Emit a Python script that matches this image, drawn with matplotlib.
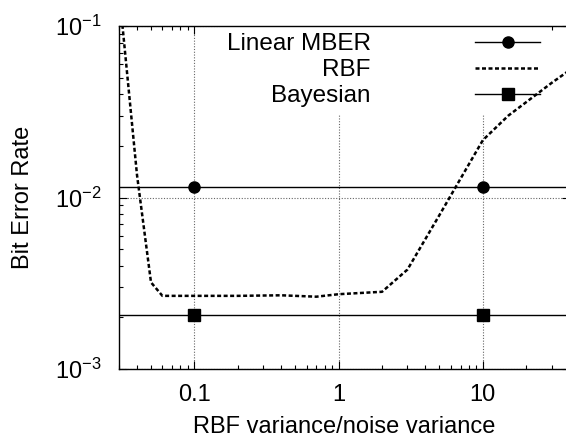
import matplotlib
matplotlib.use('Agg')
import matplotlib.pyplot as plt
from matplotlib.lines import Line2D
from matplotlib.ticker import FixedLocator, NullFormatter, LogLocator

# ---- data ----
rbf_variance = [0.03, 0.04, 0.05, 0.06, 0.1, 0.2, 0.4, 0.7, 1.0, 2.0, 3.0, 5.0,
                10.0, 15.0, 20.0, 30.0, 40.0]
rbf_ber = [0.162, 0.0135, 0.0032, 0.00267, 0.00267, 0.00267, 0.00269, 0.00264,
           0.00273, 0.00282, 0.0038, 0.0079, 0.0216, 0.030, 0.036, 0.0466, 0.0553]
marker_variance = [0.1, 10.0]
mber_ber = 0.0115
bayes_ber = 0.00206
x_ticks = [0.1, 1, 10]
x_tick_labels = ['0.1', '1', '10']
y_ticks = [1e-3, 1e-2, 1e-1]
legend_labels = ['Linear MBER', 'RBF', 'Bayesian']

plt.rcParams['font.family'] = ['Liberation Sans', 'DejaVu Sans']
plt.rcParams['axes.unicode_minus'] = False
plt.rcParams['mathtext.fontset'] = 'custom'
plt.rcParams['mathtext.rm'] = 'Liberation Sans'
plt.rcParams['mathtext.it'] = 'Liberation Sans'

W, H = 566, 443
fig = plt.figure(figsize=(W / 100, H / 100), dpi=100)
ax = fig.add_axes([119 / W, (H - 369) / H, 450.7 / W, 343 / H])
ax.set_xscale('log')
ax.set_yscale('log')
ax.set_xlim(0.03, 40)
ax.set_ylim(1e-3, 1e-1)

ax.set_axisbelow(True)
ax.grid(True, which='major', color='#666666', linestyle=(0, (1, 1.5)), linewidth=0.8)

rbf_style = (0, (1.6, 1.0))
ax.axhline(mber_ber, color='black', lw=1.0, zorder=2)
ax.plot(marker_variance, [mber_ber] * len(marker_variance), 'o', color='black', ms=8, zorder=3)
ax.plot(rbf_variance, rbf_ber, color='black', lw=1.8, linestyle=rbf_style, zorder=2)
ax.axhline(bayes_ber, color='black', lw=1.0, zorder=2)
ax.plot(marker_variance, [bayes_ber] * len(marker_variance), 's', color='black', ms=8.5, zorder=3)

handles = [
    Line2D([], [], color='black', lw=1.0, marker='o', ms=8),
    Line2D([], [], color='black', lw=1.8, linestyle=rbf_style),
    Line2D([], [], color='black', lw=1.0, marker='s', ms=8.5),
]
leg = ax.legend(handles, legend_labels, loc='upper right', bbox_to_anchor=(0.95, 1.0),
                markerfirst=False, frameon=True, fancybox=False, edgecolor='none',
                facecolor='white', framealpha=1, fontsize=17.5, handlelength=2.65,
                handletextpad=4.3, labelspacing=0.16, borderpad=0.3, borderaxespad=0,
                numpoints=1)
leg.set_zorder(1)

ax.xaxis.set_major_locator(FixedLocator(x_ticks))
ax.set_xticklabels(x_tick_labels)
ax.xaxis.set_minor_locator(LogLocator(base=10, subs=range(2, 10)))
ax.xaxis.set_minor_formatter(NullFormatter())
ax.yaxis.set_major_locator(FixedLocator(y_ticks))
ax.yaxis.set_minor_locator(LogLocator(base=10, subs=range(2, 10)))
ax.yaxis.set_minor_formatter(NullFormatter())

ax.tick_params(which='both', direction='in', top=True, right=True, labelsize=17)
ax.tick_params(which='major', length=6, width=0.8)
ax.tick_params(axis='y', which='major', pad=12.5)
ax.tick_params(axis='x', which='major', pad=11)
ax.tick_params(which='minor', length=3, width=0.8)
for s in ax.spines.values():
    s.set_linewidth(1.0)

ax.set_xlabel('RBF variance/noise variance', fontsize=17, labelpad=7)
ax.set_ylabel('Bit Error Rate', fontsize=17, labelpad=15)

fig.savefig('out.png', dpi=100)
